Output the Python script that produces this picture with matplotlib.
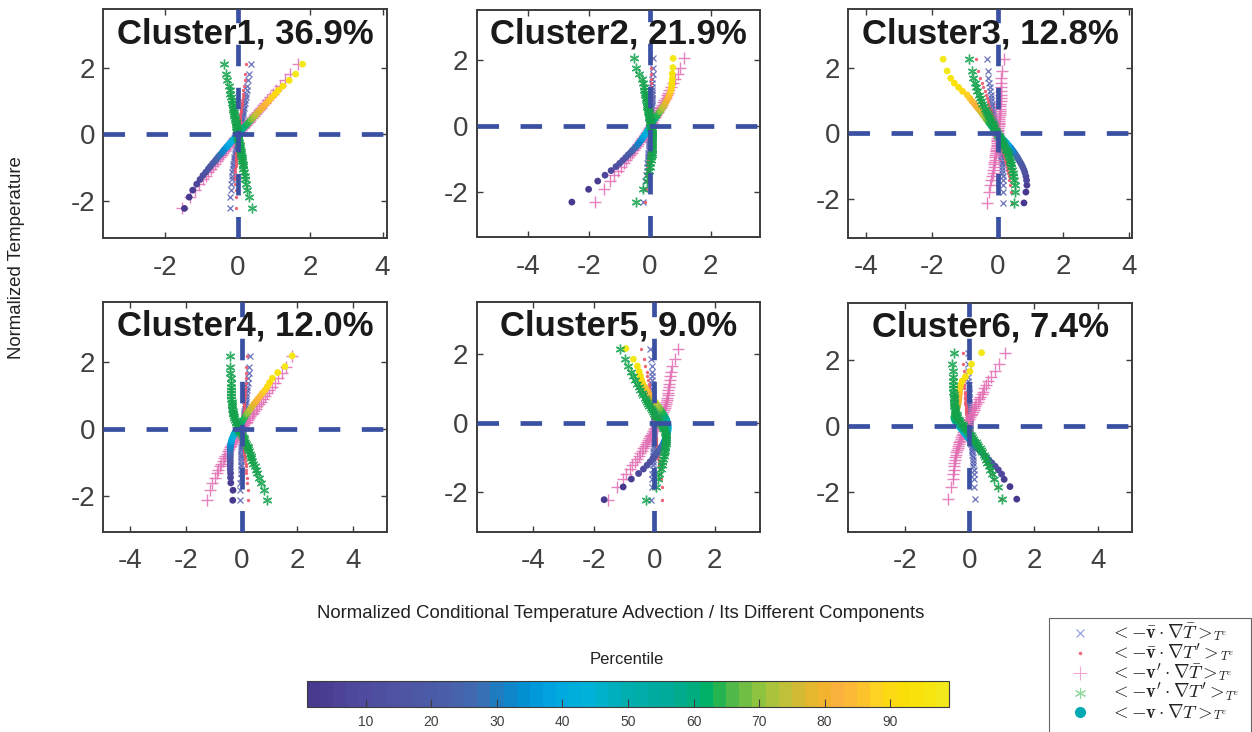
import matplotlib
matplotlib.use('Agg')
import matplotlib.pyplot as plt
from matplotlib.colors import LinearSegmentedColormap, Normalize
import matplotlib.cm as cm

plt.rcParams['font.family'] = ['Liberation Sans', 'DejaVu Sans']
plt.rcParams['mathtext.fontset'] = 'cm'
plt.rcParams['lines.scale_dashes'] = False
plt.rcParams['axes.unicode_minus'] = False

# ---------------- data ----------------
percentiles = [1, 3, 5, 7, 9, 11, 13, 15, 17, 19, 21, 23, 25, 27, 29, 31, 33, 35, 37, 39,
               41, 43, 45, 47, 49, 51, 53, 55, 57, 59, 61, 63, 65, 67, 69, 71, 73, 75, 77, 79,
               81, 83, 85, 87, 89, 91, 93, 95, 97, 99]

titles = ['Cluster1, 36.9%', 'Cluster2, 21.9%', 'Cluster3, 12.8%',
          'Cluster4, 12.0%', 'Cluster5, 9.0%', 'Cluster6, 7.4%']

# normalized temperature at each percentile
temp_c1 = [-2.23,-1.89,-1.68,-1.50,-1.36,-1.24,-1.14,-1.04,-0.96,-0.88,-0.81,-0.74,-0.67,-0.61,-0.55,-0.49,-0.44,-0.38,-0.33,-0.28,-0.22,-0.17,-0.12,-0.07,-0.02,0.03,0.08,0.13,0.18,0.23,0.28,0.33,0.38,0.44,0.49,0.55,0.60,0.66,0.73,0.80,0.87,0.94,1.02,1.11,1.21,1.32,1.45,1.62,1.81,2.11]
temp_c2 = [-2.32,-1.93,-1.68,-1.50,-1.36,-1.24,-1.14,-1.05,-0.96,-0.88,-0.81,-0.74,-0.67,-0.61,-0.55,-0.49,-0.43,-0.38,-0.32,-0.27,-0.22,-0.17,-0.12,-0.07,-0.02,0.03,0.08,0.13,0.18,0.23,0.28,0.33,0.38,0.43,0.48,0.54,0.59,0.65,0.72,0.79,0.86,0.93,1.01,1.10,1.20,1.31,1.43,1.59,1.78,2.06]
temp_c3 = [-2.12,-1.79,-1.58,-1.43,-1.31,-1.20,-1.11,-1.02,-0.94,-0.87,-0.80,-0.73,-0.67,-0.61,-0.55,-0.50,-0.44,-0.39,-0.34,-0.29,-0.24,-0.19,-0.14,-0.09,-0.04,0.01,0.06,0.11,0.16,0.21,0.27,0.32,0.38,0.43,0.49,0.55,0.61,0.68,0.75,0.82,0.90,0.98,1.07,1.17,1.28,1.40,1.53,1.68,1.90,2.26]
temp_c4 = [-2.13,-1.83,-1.61,-1.45,-1.32,-1.21,-1.11,-1.03,-0.95,-0.87,-0.80,-0.74,-0.67,-0.61,-0.55,-0.50,-0.44,-0.39,-0.34,-0.28,-0.23,-0.18,-0.13,-0.08,-0.03,0.02,0.07,0.12,0.17,0.22,0.27,0.33,0.38,0.44,0.49,0.55,0.61,0.68,0.75,0.82,0.90,0.98,1.07,1.16,1.27,1.39,1.52,1.69,1.87,2.19]
temp_c5 = [-2.22,-1.85,-1.62,-1.46,-1.33,-1.22,-1.12,-1.03,-0.95,-0.87,-0.80,-0.73,-0.67,-0.61,-0.55,-0.49,-0.44,-0.38,-0.33,-0.28,-0.23,-0.18,-0.13,-0.08,-0.03,0.02,0.07,0.12,0.17,0.22,0.27,0.33,0.38,0.43,0.49,0.55,0.61,0.67,0.74,0.81,0.89,0.97,1.06,1.15,1.25,1.37,1.50,1.66,1.86,2.17]
temp_c6 = [-2.22,-1.84,-1.62,-1.46,-1.33,-1.22,-1.12,-1.03,-0.95,-0.87,-0.80,-0.73,-0.67,-0.61,-0.55,-0.49,-0.44,-0.38,-0.33,-0.28,-0.23,-0.18,-0.13,-0.08,-0.03,0.02,0.07,0.12,0.17,0.22,0.27,0.33,0.38,0.43,0.49,0.55,0.61,0.67,0.74,0.81,0.89,0.97,1.05,1.15,1.25,1.37,1.50,1.66,1.88,2.23]

# <-vbar . grad Tbar>
vbTb_c1 = [-0.21,-0.20,-0.19,-0.18,-0.17,-0.16,-0.15,-0.14,-0.13,-0.12,-0.11,-0.10,-0.09,-0.08,-0.07,-0.06,-0.05,-0.04,-0.03,-0.02,-0.01,0.00,0.01,0.02,0.02,0.03,0.04,0.05,0.06,0.07,0.08,0.09,0.10,0.11,0.12,0.13,0.14,0.15,0.16,0.17,0.18,0.19,0.20,0.22,0.23,0.25,0.27,0.29,0.31,0.36]
vbTb_c2 = [-0.22,-0.17,-0.14,-0.12,-0.10,-0.09,-0.08,-0.07,-0.06,-0.05,-0.05,-0.04,-0.04,-0.03,-0.03,-0.02,-0.02,-0.01,-0.01,0.00,0.00,0.00,0.01,0.01,0.01,0.02,0.02,0.02,0.03,0.03,0.03,0.04,0.04,0.04,0.05,0.05,0.05,0.06,0.06,0.06,0.07,0.07,0.07,0.08,0.08,0.09,0.09,0.10,0.10,0.11]
vbTb_c3 = [0.17,0.16,0.16,0.15,0.15,0.14,0.14,0.13,0.12,0.12,0.11,0.10,0.09,0.09,0.08,0.07,0.06,0.05,0.04,0.03,0.02,0.01,0.00,-0.01,-0.02,-0.03,-0.04,-0.05,-0.06,-0.07,-0.08,-0.09,-0.10,-0.11,-0.12,-0.13,-0.14,-0.15,-0.16,-0.17,-0.18,-0.19,-0.20,-0.21,-0.23,-0.24,-0.26,-0.28,-0.30,-0.32]
vbTb_c4 = [-0.06,-0.05,-0.05,-0.04,-0.04,-0.04,-0.03,-0.03,-0.03,-0.02,-0.02,-0.02,-0.01,-0.01,-0.01,0.00,0.00,0.00,0.01,0.01,0.01,0.02,0.02,0.03,0.03,0.04,0.04,0.05,0.05,0.06,0.07,0.07,0.08,0.09,0.10,0.10,0.11,0.12,0.13,0.14,0.15,0.16,0.17,0.18,0.20,0.21,0.23,0.25,0.27,0.31]
vbTb_c5 = [-0.10,-0.08,-0.07,-0.06,-0.05,-0.05,-0.04,-0.04,-0.03,-0.03,-0.03,-0.02,-0.02,-0.02,-0.01,-0.01,-0.01,0.00,0.00,0.00,0.00,0.00,0.00,0.00,0.00,0.00,0.00,0.00,0.00,-0.01,-0.01,-0.01,-0.01,-0.02,-0.02,-0.02,-0.03,-0.03,-0.03,-0.04,-0.04,-0.05,-0.05,-0.06,-0.06,-0.07,-0.08,-0.09,-0.11,-0.14]
vbTb_c6 = [0.18,0.16,0.15,0.14,0.13,0.12,0.11,0.10,0.10,0.09,0.08,0.08,0.07,0.07,0.06,0.06,0.05,0.05,0.04,0.04,0.03,0.03,0.03,0.02,0.02,0.02,0.01,0.01,0.01,0.01,0.00,0.00,0.00,0.00,0.00,0.00,-0.01,-0.01,-0.01,-0.01,-0.01,-0.02,-0.02,-0.02,-0.02,-0.03,-0.03,-0.03,-0.04,-0.04]

# <-vbar . grad T'>
vbTp_c1 = [-0.05,-0.06,-0.06,-0.07,-0.07,-0.07,-0.07,-0.07,-0.06,-0.06,-0.06,-0.05,-0.05,-0.04,-0.04,-0.03,-0.03,-0.02,-0.02,-0.01,-0.01,0.00,0.00,0.01,0.01,0.02,0.02,0.03,0.03,0.04,0.04,0.05,0.05,0.06,0.06,0.07,0.07,0.08,0.09,0.10,0.11,0.12,0.13,0.14,0.15,0.16,0.17,0.19,0.20,0.23]
vbTp_c2 = [-0.16,-0.12,-0.10,-0.08,-0.07,-0.06,-0.05,-0.05,-0.04,-0.04,-0.03,-0.03,-0.03,-0.02,-0.02,-0.02,-0.01,-0.01,-0.01,0.00,0.00,0.00,0.00,0.01,0.01,0.01,0.01,0.01,0.02,0.02,0.02,0.02,0.02,0.03,0.03,0.03,0.03,0.03,0.04,0.04,0.04,0.04,0.04,0.05,0.05,0.05,0.05,0.05,0.05,0.05]
vbTp_c3 = [0.44,0.40,0.37,0.35,0.33,0.31,0.29,0.27,0.25,0.24,0.22,0.20,0.19,0.17,0.16,0.14,0.13,0.11,0.10,0.08,0.07,0.05,0.04,0.02,0.01,-0.01,-0.02,-0.04,-0.05,-0.07,-0.08,-0.10,-0.12,-0.13,-0.15,-0.17,-0.19,-0.21,-0.23,-0.25,-0.28,-0.30,-0.33,-0.36,-0.40,-0.44,-0.48,-0.53,-0.60,-0.66]
vbTp_c4 = [0.24,0.22,0.20,0.18,0.17,0.16,0.15,0.14,0.13,0.12,0.11,0.10,0.09,0.08,0.08,0.07,0.06,0.06,0.05,0.05,0.04,0.04,0.04,0.03,0.03,0.03,0.03,0.04,0.04,0.04,0.05,0.05,0.06,0.06,0.07,0.07,0.08,0.08,0.09,0.10,0.10,0.11,0.12,0.12,0.13,0.14,0.15,0.16,0.17,0.18]
vbTp_c5 = [0.24,0.24,0.22,0.20,0.18,0.16,0.14,0.13,0.12,0.11,0.10,0.09,0.08,0.07,0.06,0.05,0.05,0.04,0.03,0.03,0.02,0.01,0.01,0.00,0.00,-0.01,-0.01,-0.02,-0.03,-0.03,-0.04,-0.05,-0.06,-0.07,-0.08,-0.09,-0.10,-0.11,-0.12,-0.13,-0.15,-0.16,-0.18,-0.19,-0.21,-0.23,-0.25,-0.31,-0.33,-0.44]
vbTp_c6 = [0.97,0.85,0.76,0.70,0.64,0.58,0.53,0.48,0.44,0.40,0.36,0.32,0.29,0.26,0.23,0.20,0.17,0.15,0.12,0.10,0.08,0.06,0.04,0.02,0.00,-0.01,-0.03,-0.04,-0.05,-0.06,-0.07,-0.08,-0.09,-0.10,-0.10,-0.11,-0.11,-0.12,-0.12,-0.13,-0.13,-0.14,-0.14,-0.15,-0.15,-0.16,-0.17,-0.18,-0.19,-0.20]

# <-v' . grad Tbar>
vpTb_c1 = [-1.55,-1.32,-1.18,-1.06,-0.96,-0.88,-0.81,-0.74,-0.68,-0.63,-0.58,-0.53,-0.48,-0.44,-0.40,-0.35,-0.32,-0.27,-0.24,-0.20,-0.16,-0.12,-0.09,-0.05,-0.01,0.02,0.06,0.10,0.14,0.18,0.22,0.26,0.30,0.35,0.39,0.44,0.48,0.53,0.58,0.64,0.70,0.75,0.82,0.89,0.97,1.06,1.16,1.30,1.45,1.67]
vpTb_c2 = [-1.81,-1.49,-1.30,-1.16,-1.04,-0.94,-0.85,-0.78,-0.71,-0.64,-0.58,-0.52,-0.47,-0.42,-0.37,-0.33,-0.28,-0.24,-0.20,-0.17,-0.13,-0.10,-0.06,-0.03,0.00,0.03,0.06,0.09,0.12,0.15,0.18,0.21,0.24,0.27,0.30,0.33,0.36,0.40,0.44,0.48,0.52,0.56,0.60,0.65,0.70,0.75,0.82,0.92,1.01,1.12]
vpTb_c3 = [-0.32,-0.26,-0.22,-0.19,-0.17,-0.15,-0.13,-0.12,-0.11,-0.10,-0.09,-0.08,-0.07,-0.06,-0.05,-0.05,-0.04,-0.03,-0.03,-0.02,-0.02,-0.01,-0.01,0.00,0.00,0.01,0.01,0.02,0.02,0.03,0.03,0.04,0.04,0.05,0.05,0.06,0.06,0.07,0.07,0.08,0.08,0.09,0.09,0.10,0.10,0.10,0.11,0.11,0.14,0.20]
vpTb_c4 = [-1.25,-1.13,-1.05,-0.97,-0.90,-0.84,-0.78,-0.73,-0.68,-0.63,-0.58,-0.54,-0.49,-0.45,-0.41,-0.37,-0.33,-0.29,-0.25,-0.21,-0.17,-0.13,-0.09,-0.05,-0.02,0.02,0.06,0.10,0.14,0.18,0.22,0.27,0.31,0.36,0.40,0.45,0.50,0.56,0.62,0.68,0.75,0.82,0.90,0.98,1.08,1.19,1.31,1.46,1.60,1.81]
vpTb_c5 = [-1.52,-1.25,-1.05,-0.93,-0.82,-0.73,-0.65,-0.58,-0.52,-0.46,-0.41,-0.36,-0.32,-0.28,-0.24,-0.20,-0.17,-0.13,-0.10,-0.07,-0.04,-0.01,0.02,0.05,0.08,0.11,0.14,0.17,0.20,0.23,0.26,0.29,0.32,0.34,0.36,0.38,0.40,0.41,0.43,0.44,0.46,0.47,0.49,0.50,0.51,0.53,0.55,0.57,0.68,0.77]
vpTb_c6 = [-0.67,-0.58,-0.52,-0.50,-0.49,-0.47,-0.46,-0.44,-0.43,-0.41,-0.40,-0.38,-0.36,-0.35,-0.33,-0.31,-0.29,-0.27,-0.25,-0.23,-0.21,-0.19,-0.17,-0.15,-0.13,-0.10,-0.08,-0.06,-0.03,-0.01,0.02,0.05,0.07,0.10,0.13,0.16,0.19,0.22,0.26,0.30,0.34,0.38,0.42,0.47,0.52,0.58,0.66,0.80,0.91,1.10]

# <-v' . grad T'>
vpTp_c1 = [0.39,0.31,0.26,0.23,0.21,0.19,0.17,0.16,0.15,0.14,0.13,0.12,0.11,0.10,0.09,0.08,0.07,0.06,0.05,0.04,0.03,0.02,0.01,0.01,0.00,-0.01,-0.01,-0.02,-0.03,-0.04,-0.05,-0.06,-0.06,-0.07,-0.08,-0.09,-0.10,-0.11,-0.12,-0.13,-0.14,-0.15,-0.17,-0.18,-0.20,-0.22,-0.24,-0.30,-0.33,-0.37]
vpTp_c2 = [-0.44,-0.23,-0.10,-0.05,-0.02,0.00,0.02,0.03,0.05,0.06,0.07,0.08,0.08,0.09,0.09,0.09,0.09,0.09,0.09,0.08,0.08,0.07,0.06,0.05,0.04,0.03,0.02,0.01,0.00,-0.01,-0.02,-0.03,-0.04,-0.05,-0.06,-0.07,-0.08,-0.09,-0.10,-0.11,-0.12,-0.14,-0.16,-0.18,-0.20,-0.23,-0.27,-0.36,-0.45,-0.53]
vpTp_c3 = [0.51,0.53,0.52,0.50,0.48,0.46,0.44,0.42,0.40,0.38,0.36,0.34,0.32,0.30,0.27,0.25,0.22,0.20,0.17,0.15,0.12,0.09,0.06,0.03,0.01,-0.02,-0.05,-0.07,-0.10,-0.12,-0.15,-0.18,-0.21,-0.24,-0.27,-0.30,-0.33,-0.36,-0.40,-0.43,-0.47,-0.51,-0.55,-0.58,-0.62,-0.66,-0.70,-0.74,-0.79,-0.87]
vpTp_c4 = [0.90,0.80,0.68,0.61,0.55,0.50,0.46,0.42,0.38,0.35,0.32,0.29,0.26,0.23,0.21,0.18,0.15,0.13,0.10,0.07,0.04,0.01,-0.02,-0.05,-0.08,-0.11,-0.14,-0.17,-0.20,-0.22,-0.24,-0.26,-0.28,-0.30,-0.31,-0.32,-0.33,-0.34,-0.35,-0.36,-0.37,-0.37,-0.38,-0.38,-0.39,-0.39,-0.40,-0.41,-0.42,-0.42]
vpTp_c5 = [-0.29,0.06,0.13,0.17,0.21,0.24,0.27,0.29,0.31,0.33,0.35,0.36,0.37,0.38,0.39,0.40,0.40,0.40,0.39,0.37,0.35,0.32,0.29,0.26,0.23,0.20,0.16,0.12,0.08,0.04,0.00,-0.04,-0.08,-0.12,-0.16,-0.20,-0.24,-0.28,-0.32,-0.37,-0.42,-0.47,-0.52,-0.58,-0.64,-0.70,-0.77,-0.86,-0.97,-1.14]
vpTp_c6 = [1.01,0.89,0.76,0.70,0.65,0.60,0.56,0.52,0.48,0.44,0.40,0.36,0.32,0.28,0.24,0.20,0.16,0.12,0.08,0.04,0.00,-0.04,-0.08,-0.12,-0.16,-0.20,-0.24,-0.28,-0.31,-0.34,-0.37,-0.39,-0.41,-0.43,-0.44,-0.45,-0.46,-0.47,-0.48,-0.48,-0.49,-0.49,-0.50,-0.50,-0.51,-0.51,-0.52,-0.50,-0.53,-0.48]

# <-v . grad T>  (total)
total_c1 = [-1.47,-1.34,-1.24,-1.13,-1.04,-0.96,-0.88,-0.81,-0.75,-0.69,-0.63,-0.58,-0.53,-0.48,-0.43,-0.39,-0.35,-0.30,-0.26,-0.22,-0.17,-0.13,-0.09,-0.05,-0.02,0.02,0.07,0.11,0.15,0.19,0.24,0.28,0.32,0.37,0.42,0.47,0.51,0.56,0.62,0.68,0.74,0.80,0.87,0.94,1.03,1.12,1.25,1.42,1.60,1.79]
total_c2 = [-2.56,-2.01,-1.71,-1.47,-1.27,-1.11,-0.99,-0.89,-0.79,-0.71,-0.63,-0.56,-0.49,-0.43,-0.38,-0.33,-0.28,-0.24,-0.20,-0.16,-0.12,-0.09,-0.05,-0.02,0.01,0.04,0.07,0.11,0.14,0.18,0.21,0.25,0.29,0.33,0.37,0.41,0.45,0.49,0.53,0.57,0.61,0.64,0.67,0.70,0.72,0.73,0.74,0.74,0.76,0.77]
total_c3 = [0.80,0.86,0.89,0.88,0.86,0.83,0.80,0.76,0.72,0.68,0.64,0.60,0.56,0.52,0.48,0.44,0.40,0.35,0.31,0.27,0.22,0.17,0.12,0.07,0.03,-0.02,-0.06,-0.10,-0.14,-0.19,-0.23,-0.27,-0.31,-0.35,-0.39,-0.44,-0.48,-0.53,-0.59,-0.65,-0.71,-0.78,-0.85,-0.93,-1.07,-1.19,-1.32,-1.43,-1.54,-1.66]
total_c4 = [-0.32,-0.31,-0.39,-0.40,-0.40,-0.41,-0.41,-0.41,-0.41,-0.41,-0.41,-0.41,-0.41,-0.41,-0.40,-0.40,-0.39,-0.38,-0.36,-0.34,-0.31,-0.29,-0.26,-0.22,-0.19,-0.15,-0.11,-0.07,-0.03,0.01,0.05,0.09,0.13,0.18,0.22,0.27,0.32,0.38,0.44,0.51,0.58,0.66,0.74,0.83,0.92,1.00,1.10,1.29,1.55,1.81]
total_c5 = [-1.66,-1.03,-0.76,-0.52,-0.36,-0.24,-0.14,-0.05,0.03,0.09,0.15,0.20,0.25,0.29,0.32,0.35,0.38,0.40,0.42,0.44,0.45,0.46,0.46,0.46,0.45,0.44,0.42,0.40,0.37,0.34,0.30,0.26,0.22,0.18,0.13,0.08,0.03,-0.02,-0.08,-0.14,-0.20,-0.26,-0.32,-0.38,-0.42,-0.46,-0.50,-0.56,-0.69,-0.94]
total_c6 = [1.47,1.26,1.08,1.00,0.90,0.80,0.70,0.61,0.53,0.45,0.38,0.31,0.25,0.19,0.13,0.08,0.03,-0.02,-0.06,-0.10,-0.14,-0.18,-0.22,-0.26,-0.30,-0.34,-0.38,-0.42,-0.45,-0.47,-0.48,-0.46,-0.44,-0.42,-0.40,-0.38,-0.36,-0.35,-0.34,-0.33,-0.32,-0.31,-0.30,-0.29,-0.27,-0.22,-0.12,0.02,0.07,0.38]

# legend text: main expression and its subscript
legend_main = [r'$<-\bar{\mathbf{v}}\cdot\nabla\bar{T}>$',
               r'$<-\bar{\mathbf{v}}\cdot\nabla T^{\prime}>$',
               r'$<-\mathbf{v}^{\prime}\cdot\nabla\bar{T}>$',
               r'$<-\mathbf{v}^{\prime}\cdot\nabla T^{\prime}>$',
               r'$<-\mathbf{v}\cdot\nabla T>$']
legend_sub = r'$T^e$'
cbar_ticks = [10, 20, 30, 40, 50, 60, 70, 80, 90]

temps = [temp_c1, temp_c2, temp_c3, temp_c4, temp_c5, temp_c6]
vbTb = [vbTb_c1, vbTb_c2, vbTb_c3, vbTb_c4, vbTb_c5, vbTb_c6]
vbTp = [vbTp_c1, vbTp_c2, vbTp_c3, vbTp_c4, vbTp_c5, vbTp_c6]
vpTb = [vpTb_c1, vpTb_c2, vpTb_c3, vpTb_c4, vpTb_c5, vpTb_c6]
vpTp = [vpTp_c1, vpTp_c2, vpTp_c3, vpTp_c4, vpTp_c5, vpTp_c6]
totals = [total_c1, total_c2, total_c3, total_c4, total_c5, total_c6]

# ---------------- layout / style ----------------
W, H = 1252, 732
# (left, right, top, bottom) in pixels, and axis limits
boxes = [(103.3, 387.3, 9.3, 238.0), (476.7, 759.5, 9.8, 237.2), (848.3, 1132.3, 9.3, 237.7),
         (103.3, 387.3, 301.7, 531.7), (476.7, 760.0, 301.7, 531.7), (848.3, 1132.3, 302.7, 531.7)]
xlims = [(-3.71, 4.13), (-5.69, 3.61), (-4.55, 4.10), (-4.96, 5.22), (-5.88, 3.50), (-3.75, 5.05)]
ylims = [(-3.12, 3.76), (-3.39, 3.54), (-3.18, 3.78), (-3.07, 3.81), (-3.15, 3.53), (-3.21, 3.75)]

anchors = [(1, '#48398f'), (8, '#4f4a9e'), (15, '#4f55a3'), (22, '#4a5fa9'), (27, '#3f6db3'),
           (30, '#1a7fc2'), (34, '#0091d5'), (39, '#00a9e2'), (44, '#00b2d8'), (50, '#00aeb0'),
           (56, '#00ab9a'), (60, '#00ad80'), (63, '#00b25f'), (65, '#3bb54a'), (68, '#6abd45'),
           (71, '#97c43d'), (74, '#bcc23a'), (77, '#d7b934'), (80, '#efb52b'), (83, '#fbb03f'),
           (86, '#fdbe31'), (89, '#fed321'), (92, '#fbdc0a'), (96, '#f7e40a'), (99, '#f3e81a')]
cmap = LinearSegmentedColormap.from_list(
    'pct', [((p - 1) / 98.0, c) for p, c in anchors], N=49)
norm = Normalize(vmin=1, vmax=99)

c_x = '#4f5bb0'
c_dot = '#ee5468'
c_plus = '#e26db3'
c_star = '#14a24c'
c_dash = '#3a50a2'
c_axis = '#3c3c3c'
c_tick = '#404040'

fig = plt.figure(figsize=(W / 100, H / 100), dpi=100)

for i in range(6):
    l, r, t, b = boxes[i]
    ax = fig.add_axes([l / W, 1 - b / H, (r - l) / W, (b - t) / H])
    y = temps[i]
    ax.plot(vbTb[i], y, ls='none', marker='x', ms=4.8, mew=0.9, color=c_x, alpha=0.85, zorder=2)
    ax.plot(vbTp[i], y, ls='none', marker='o', ms=2.4, mew=0, color=c_dot, alpha=0.9, zorder=2)
    ax.plot(vpTb[i], y, ls='none', marker='+', ms=8.5, mew=1.0, color=c_plus, alpha=0.85, zorder=2)
    ax.scatter(totals[i], y, c=percentiles, cmap=cmap, norm=norm, s=24, edgecolors='none', zorder=3)
    ax.plot(vpTp[i], y, ls='none', marker=(6, 2, 0), ms=7, mew=1.0, color=c_star, alpha=0.85, zorder=4)
    x0, x1 = xlims[i]
    y0, y1 = ylims[i]
    ax.plot([x0, x1], [0, 0], ls=(0, (15.5, 15.5)), lw=3.4, color=c_dash,
            dash_capstyle='butt', zorder=5)
    ax.plot([0, 0], [y0, y1], ls=(0, (15.5, 15.5)), lw=3.4, color=c_dash,
            dash_capstyle='butt', zorder=5)
    ax.set_xlim(x0, x1)
    ax.set_ylim(y0, y1)
    ax.set_xticks([v for v in (-4, -2, 0, 2, 4) if x0 <= v <= x1])
    ax.set_yticks([-2, 0, 2])
    ax.tick_params(direction='in', length=4, width=1.0, color=c_axis, labelsize=20,
                   labelcolor=c_tick, top=True, right=True)
    ax.tick_params(axis='x', pad=12)
    ax.tick_params(axis='y', pad=6)
    for s in ax.spines.values():
        s.set_linewidth(1.4)
        s.set_color(c_axis)
    ax.text(0.5, 0.852, titles[i], transform=ax.transAxes, ha='center', va='baseline',
            fontsize=25, fontweight='bold', color='#1a1a1a', zorder=6)

fig.text(17 / W, 1 - 258 / H, 'Normalized Temperature', rotation=90, ha='center', va='center',
         fontsize=13.4, color='#222222')
fig.text(621 / W, 1 - 614 / H, 'Normalized Conditional Temperature Advection / Its Different Components',
         ha='center', va='center', fontsize=13.4, color='#222222')

# colorbar
cax = fig.add_axes([307 / W, 1 - 707 / H, (949 - 307) / W, 26 / H])
cb = fig.colorbar(cm.ScalarMappable(norm=norm, cmap=cmap), cax=cax, orientation='horizontal')
cb.set_ticks(cbar_ticks)
cax.tick_params(direction='in', length=6, width=0.8, color=c_axis, labelsize=10, labelcolor=c_tick, pad=6)
cb.outline.set_linewidth(0.8)
cb.outline.set_edgecolor(c_axis)
fig.text(627 / W, 1 - 660 / H, 'Percentile', ha='center', va='center', fontsize=12, color='#222222')

# legend (drawn by hand so its box can run past the bottom edge like the reference)
lax = fig.add_axes([1048 / W, 0, (1251 - 1048) / W, (732 - 617) / H])
lax.set_xlim(1048, 1251)
lax.set_ylim(732, 617)
lax.axis('off')
lax.plot([1048.5, 1048.5, 1250.5, 1250.5], [740, 617.5, 617.5, 740], color='#666666', lw=0.8,
         clip_on=False)
leg_styles = [dict(marker='x', ms=5.5, mew=0.8, color='#8c9ae0'),
              dict(marker='o', ms=2.6, mew=0, color='#f07080'),
              dict(marker='+', ms=10, mew=0.8, color='#f2a6cf'),
              dict(marker=(6, 2, 0), ms=8, mew=0.8, color='#8fd89a'),
              dict(marker='o', ms=8, mew=0, color='#00aab3')]
rows = [633, 653, 673, 692.5, 712]
main_texts = []
for k in range(5):
    lax.plot([1080], [rows[k]], ls='none', clip_on=False, **leg_styles[k])
    main_texts.append(lax.text(1110, rows[k] + 5.0, legend_main[k], ha='left', va='baseline',
                               fontsize=13.5, color='#222222', clip_on=False))
fig.canvas.draw()
renderer = fig.canvas.get_renderer()
for k in range(5):
    bb = main_texts[k].get_window_extent(renderer)
    x_end = lax.transData.inverted().transform((bb.x1, bb.y0))[0]
    lax.text(x_end + 0.5, rows[k] + 7.0, legend_sub, ha='left', va='baseline',
             fontsize=9.0, color='#222222', clip_on=False)

fig.savefig('out.png', dpi=100)
